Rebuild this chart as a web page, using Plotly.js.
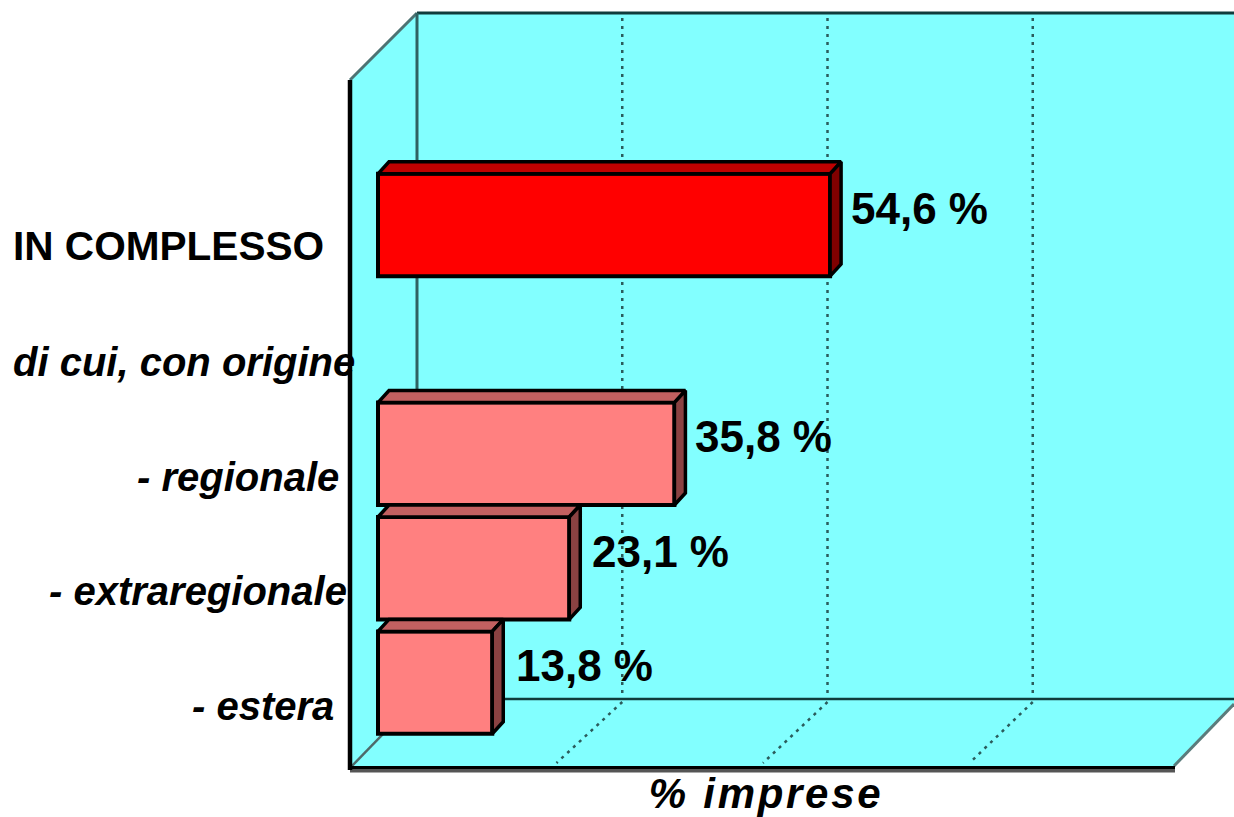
<!DOCTYPE html>
<html>
<head>
<meta charset="utf-8">
<script src="https://cdn.plot.ly/plotly-3.0.1.min.js"></script>
<style>html,body{margin:0;padding:0;background:#fff;overflow:hidden}</style>
</head>
<body>
<div id="chart" style="width:1234px;height:817px"></div>
<script>
const categories = ["IN COMPLESSO", "di cui, con origine", "- regionale", "- extraregionale", "- estera"];
const values = [54.6, null, 35.8, 23.1, 13.8];
const valueLabels = ["54,6 %", "", "35,8 %", "23,1 %", "13,8 %"];
const gridTicks = [25, 50, 75];
const axisTitle = "% imprese";

const frontColors = ["#ff0000", "#ff8080", "#ff8080", "#ff8080", "#ff8080"];
const topColors = ["#bf0000", "#c26060", "#c26060", "#c26060", "#c26060"];
const sideColors = ["#800000", "#8a4242", "#8a4242", "#8a4242", "#8a4242"];
const labelRight = [326, 357, 341, 349, 336];
const labelStyle = ["normal", "italic", "italic", "italic", "italic"];
const labelSize = [40.6, 40, 40, 40, 40];
const labelShift = [-21, -23, -23, -23, -23];
const valueShift = [19, 0, 19, 21, 22];

const W = 1234, H = 817;
const PX_PER_UNIT = 8.28, X0 = 378;
const ROW = 114.4, Y0 = 225;
const DX = 11 / PX_PER_UNIT, DY = 12 / ROW, BAR_H = 0.895;
const FONT = '"Liberation Sans", Arial, sans-serif';
const px = x => x / W, py = y => 1 - y / H;
const backX = v => 417 + v * 8.21, frontX = v => 350 + v * 8.26;

const poly = (pts, fill, line, width) => ({
  type: "path", xref: "paper", yref: "paper", layer: "below",
  path: "M" + pts.map(p => px(p[0]) + "," + py(p[1])).join("L") + "Z",
  fillcolor: fill, line: {color: line || fill, width: width === undefined ? 0 : width}
});
const seg = (x1, y1, x2, y2, color, width, dash) => ({
  type: "line", xref: "paper", yref: "paper", layer: "below",
  x0: px(x1), y0: py(y1), x1: px(x2), y1: py(y2),
  line: {color: color, width: width, dash: dash || "solid"}
});

const CYAN = "#82ffff";
const shapes = [
  poly([[350, 80], [417, 13], [W, 13], [W, 705], [1174, 767], [350, 767]], CYAN),
  seg(417, 13, W, 13, "#103c3c", 3),
  seg(350, 80, 417, 13, "#4d7272", 3),
  seg(417, 13, 417, 699, "#2f6262", 3),
  seg(417, 699, W, 699, "#103c3c", 2.5),
  seg(417, 699, 350, 768, "#4d6a6a", 2.5),
  seg(1174, 766, W, 704, "#5a7c7c", 3),
  seg(350, 770.5, 1175, 770.5, "#555555", 4),
  seg(350, 767.5, 1175, 767.5, "#000000", 3),
  seg(350, 80, 350, 770, "#000000", 4.5)
];
gridTicks.forEach(t => {
  shapes.push(seg(backX(t), 18, backX(t), 694, "#2b5c5c", 2.5, "3px,5px"));
  shapes.push(seg(backX(t), 702, frontX(t), 763, "#2b5c5c", 2.5, "3px,5px"));
});

const traces = [{
  type: "bar", orientation: "h",
  x: values, y: categories.map((_, i) => i),
  width: BAR_H,
  marker: {color: frontColors, line: {color: "#000000", width: 4}},
  hoverinfo: "x+y", showlegend: false
}];
values.forEach((v, i) => {
  if (v === null) return;
  const t = i - BAR_H / 2, b = i + BAR_H / 2;
  traces.push({
    type: "scatter", mode: "lines", fill: "toself", fillcolor: topColors[i],
    x: [0, DX, v + DX, v, 0], y: [t, t - DY, t - DY, t, t],
    line: {color: "#000000", width: 3.5}, hoverinfo: "skip", showlegend: false
  });
  traces.push({
    type: "scatter", mode: "lines", fill: "toself", fillcolor: sideColors[i],
    x: [v, v + DX, v + DX, v, v], y: [t, t - DY, b - DY, b, t],
    line: {color: "#000000", width: 3.5}, hoverinfo: "skip", showlegend: false
  });
});

const annotations = [];
categories.forEach((c, i) => {
  annotations.push({
    text: c, xref: "paper", yref: "y",
    x: px(labelRight[i]), y: i, yshift: labelShift[i],
    xanchor: "right", yanchor: "middle", showarrow: false,
    font: {family: FONT, size: labelSize[i], color: "#000000", weight: "bold", style: labelStyle[i]}
  });
  if (values[i] !== null) annotations.push({
    text: valueLabels[i], xref: "x", yref: "y",
    x: values[i], y: i, xshift: valueShift[i], yshift: 17,
    xanchor: "left", yanchor: "middle", showarrow: false,
    font: {family: FONT, size: 44, color: "#000000", weight: "bold"}
  });
});
annotations.push({
  text: axisTitle, xref: "paper", yref: "paper",
  x: px(766), y: py(793), xanchor: "center", yanchor: "middle", showarrow: false,
  font: {family: FONT, size: 42, color: "#000000", weight: "bold", style: "italic"}
});

const layout = {
  width: W, height: H,
  margin: {l: 0, r: 0, t: 0, b: 0, pad: 0},
  paper_bgcolor: "#ffffff", plot_bgcolor: "rgba(0,0,0,0)",
  xaxis: {range: [-X0 / PX_PER_UNIT, (W - X0) / PX_PER_UNIT], showgrid: false, zeroline: false, showticklabels: false, ticks: "", fixedrange: true},
  yaxis: {range: [(H - Y0) / ROW, -Y0 / ROW], showgrid: false, zeroline: false, showticklabels: false, ticks: "", fixedrange: true},
  barmode: "overlay",
  shapes: shapes,
  annotations: annotations,
  showlegend: false
};
Plotly.newPlot("chart", traces, layout, {displayModeBar: false, staticPlot: true}).then(() => {
  document.querySelectorAll(".annotation-text").forEach(el => {
    if (el.textContent === axisTitle) el.style.letterSpacing = "2.7px";
  });
});
</script>
</body>
</html>
